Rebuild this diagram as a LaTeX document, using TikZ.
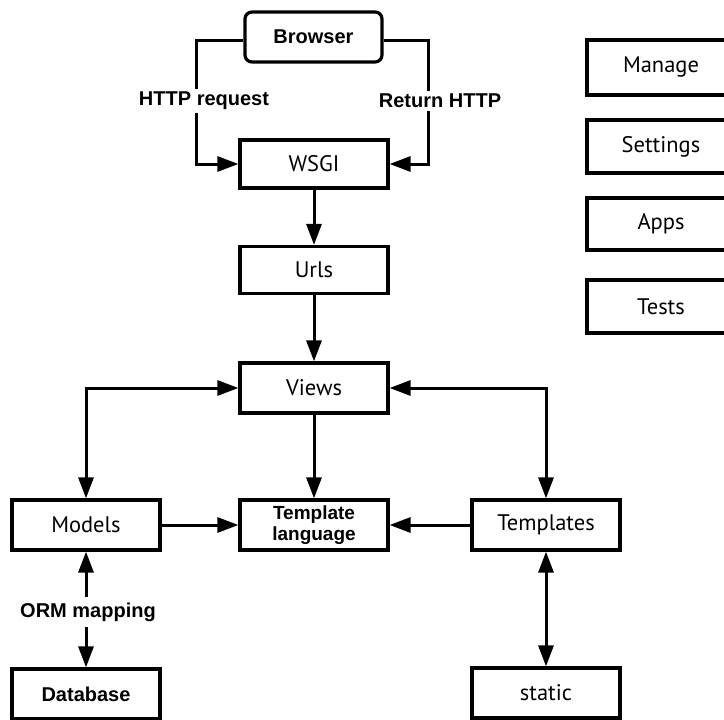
\documentclass[tikz,border=0pt]{standalone}
\usepackage{fontspec}
\setmainfont{PT Sans}
\newfontfamily\boldlab{Liberation Sans}[BoldFont={Liberation Sans Bold}]
\usetikzlibrary{arrows.meta}
\tikzset{
  box/.style={draw, line width=3.2pt, minimum width=148pt, minimum height=50pt, inner sep=0pt, font=\fontsize{22.5}{24}\selectfont, align=center},
  bbox/.style={box, font=\boldlab\bfseries\fontsize{20}{22}\selectfont},
  lab/.style={fill=white, inner sep=3pt, font=\boldlab\bfseries\fontsize{20}{22}\selectfont},
  conn/.style={line width=3pt, -{Triangle[length=21pt,width=15pt]}},
  dconn/.style={line width=3pt, {Triangle[length=21pt,width=15pt]}-{Triangle[length=21pt,width=15pt]}}
}
\begin{document}
\begin{tikzpicture}[x=1pt,y=-1pt]
\useasboundingbox (0,0) rectangle (724,720);
\node[bbox, rounded corners=7pt, minimum width=137pt] (browser) at (313.5,37) {Browser};
\node[box, minimum height=48pt] (wsgi) at (314,164) {WSGI};
\node[box, minimum height=47pt] (urls) at (314,270) {Urls};
\node[box] (views) at (314,388) {Views};
\node[bbox, font=\boldlab\bfseries\fontsize{19}{21}\selectfont] (tl) at (314,525) {Template\\language};
\node[box] (models) at (86,525) {Models};
\node[box] (templates) at (546,525) {Templates};
\node[bbox] (db) at (86,694) {Database};
\node[box] (static) at (546,693) {static};
\node[box, minimum height=55pt] (manage) at (661,67.5) {Manage};
\node[box, minimum height=53pt] (settings) at (661,146.5) {Settings};
\node[box, minimum height=52pt] (apps) at (661,224) {Apps};
\node[box, minimum height=53pt] (tests) at (661,306.5) {Tests};
\coordinate (bl) at (196,40);
\coordinate (br) at (428,40);
\draw[conn] (browser.west |- bl) -- (bl) |- (wsgi.west);
\draw[conn] (browser.east |- br) -- (br) |- (wsgi.east);
\node[lab] (hreq) at (204,101) {HTTP request};
\node[lab] (rhttp) at (440,101) {Return HTTP};
\draw[conn] (wsgi) -- (urls);
\draw[conn] (urls) -- (views);
\draw[conn] (views) -- (tl);
\draw[dconn] (models.north) |- (views.west);
\draw[dconn] (views.east) -| (templates.north);
\draw[conn] (models) -- (tl);
\draw[conn] (templates) -- (tl);
\draw[dconn] (models) -- (db);
\node[lab, inner sep=6pt] (orm) at (88,612) {ORM mapping};
\draw[dconn] (templates) -- (static);
\end{tikzpicture}
\end{document}
